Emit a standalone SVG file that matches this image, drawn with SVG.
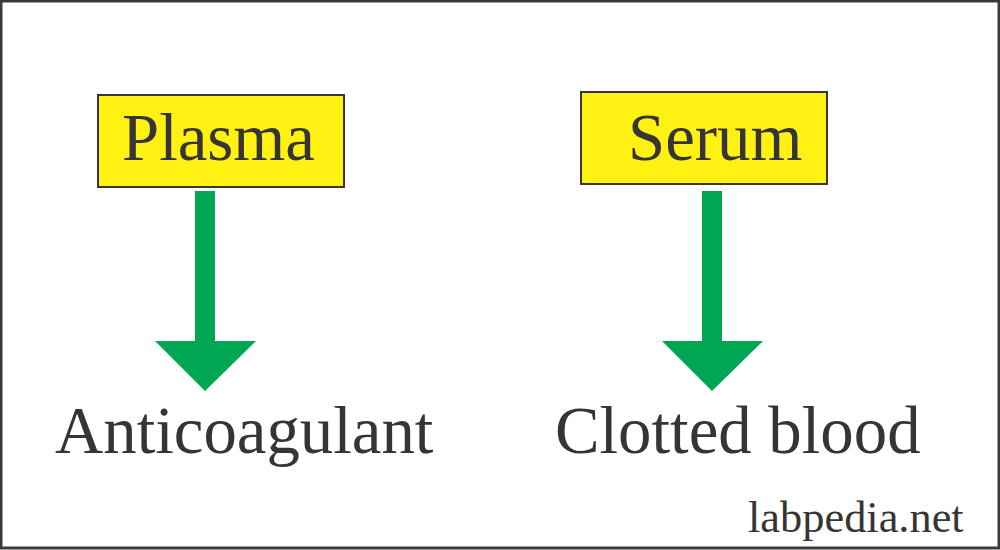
<svg xmlns="http://www.w3.org/2000/svg" width="1000" height="550" viewBox="0 0 1000 550">
<style>
.box{fill:#fff212;stroke:#3a3636;stroke-width:2}
.arrow{fill:#00a651}
text{font-family:"Liberation Serif","Times New Roman",serif;fill:#373435}
.big{font-size:66.8px}
.wm{font-size:44.4px}
</style>
<rect width="1000" height="550" fill="#fff"/>
<rect x="1" y="1" width="998" height="547" fill="none" stroke="#3a3a3a" stroke-width="3"/>
<g id="plasma"><rect class="box" x="98" y="95" width="246" height="92"/><text class="big" x="122" y="160">Plasma</text></g>
<g id="serum"><rect class="box" x="581" y="92" width="246" height="92"/><text class="big" x="628" y="160">Serum</text></g>
<g id="connectors">
<polygon class="arrow" points="195,191 215,191 215,341 256,341 205,391 155,341 195,341"/>
<polygon class="arrow" points="702,191 722,191 722,341 763,341 712,391 662,341 702,341"/>
</g>
<g id="anticoagulant"><text class="big" x="55" y="453">Anticoagulant</text></g>
<g id="clotted"><text class="big" x="555" y="453">Clotted blood</text></g>
<text class="wm" x="748" y="532">labpedia.net</text>
</svg>
